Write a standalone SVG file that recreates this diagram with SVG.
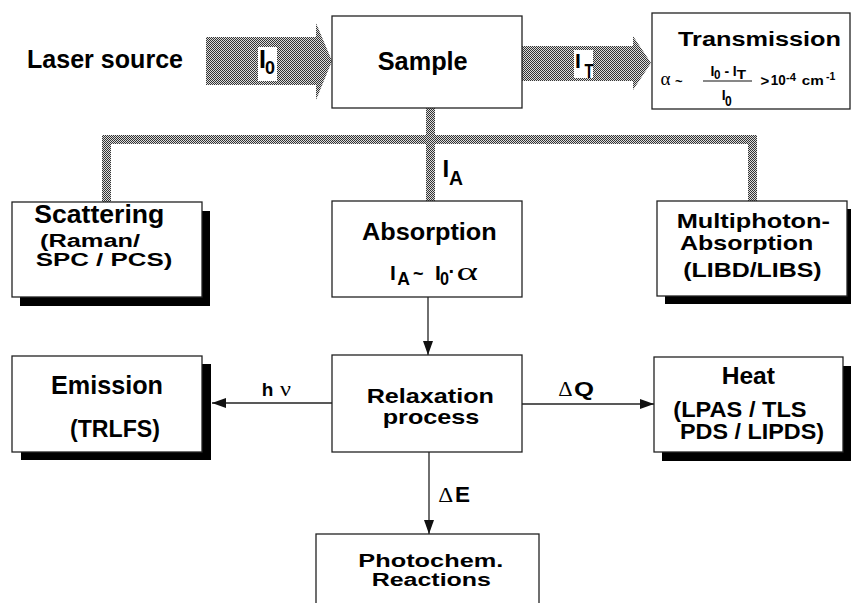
<svg xmlns="http://www.w3.org/2000/svg" width="851" height="603" viewBox="0 0 851 603">
<defs>
<pattern id="dith" width="2" height="2" patternUnits="userSpaceOnUse">
<rect width="2" height="2" fill="#dcdcdc"/>
<rect width="1" height="1" fill="#333"/>
<rect x="1" y="1" width="1" height="1" fill="#333"/>
</pattern>
<marker id="ah" viewBox="0 0 14 10" refX="14" refY="5" markerWidth="14" markerHeight="10" markerUnits="userSpaceOnUse" orient="auto">
<path d="M0,0 L14,5 L0,10 z" fill="#111"/>
</marker>
<style>
.t{font-family:"Liberation Sans",Arial,sans-serif;font-weight:bold;fill:#000}
.g{font-family:"Liberation Serif","Times New Roman",serif;fill:#000}
.box{fill:#fff;stroke:#222;stroke-width:1.3}
.sh{fill:#000}
.ln{stroke:#222;stroke-width:1.3;fill:none}
.flow{fill:url(#dith)}
.lab{fill:#fff}
</style>
</defs>
<rect width="851" height="603" fill="#fff"/>

<g id="connectors">
<polygon class="flow" points="206,37 316,37 316,23 332,61 316,100 316,85 206,85"/>
<polygon class="flow" points="522,46 633,46 633,36 651,63 633,90 633,81 522,81"/>
<path class="flow" d="M102,135 H757 V201 H748 V144 H435 V201 H426 V144 H111 V202 H102 Z M426,108 H435 V135 H426 Z"/>
<rect class="lab" x="258" y="47" width="19" height="34"/>
<text class="t" x="259" y="67.7" font-size="25">I</text>
<text class="t" x="265" y="74.3" font-size="19" textLength="10" lengthAdjust="spacingAndGlyphs">0</text>
<rect class="lab" x="574" y="50" width="19" height="28"/>
<text class="t" x="575" y="68.3" font-size="21">I</text>
<text class="t" x="584.5" y="78" font-size="20" textLength="9" lengthAdjust="spacingAndGlyphs">T</text>
<text class="t" x="442.5" y="176.7" font-size="24">I</text>
<text class="t" x="449" y="185" font-size="20" textLength="14" lengthAdjust="spacingAndGlyphs">A</text>
<line class="ln" x1="428" y1="297" x2="428" y2="355" marker-end="url(#ah)"/>
<line class="ln" x1="332" y1="403" x2="212" y2="403" marker-end="url(#ah)"/>
<line class="ln" x1="522" y1="404" x2="654" y2="404" marker-end="url(#ah)"/>
<line class="ln" x1="429" y1="452" x2="429" y2="534" marker-end="url(#ah)"/>
<text class="t" x="261.7" y="396" font-size="19">h</text>
<text class="g" x="280" y="396" font-size="20" textLength="11" lengthAdjust="spacingAndGlyphs">ν</text>
<text class="g" x="558.3" y="396" font-size="21" textLength="14.4" lengthAdjust="spacingAndGlyphs">Δ</text>
<text class="t" x="574" y="396" font-size="20" textLength="20" lengthAdjust="spacingAndGlyphs">Q</text>
<text class="g" x="438.3" y="501.7" font-size="22" textLength="15" lengthAdjust="spacingAndGlyphs">Δ</text>
<text class="t" x="455" y="501.7" font-size="22" textLength="15" lengthAdjust="spacingAndGlyphs">E</text>
</g>

<g id="laser">
<text class="t" x="27" y="68" font-size="25" textLength="156" lengthAdjust="spacingAndGlyphs">Laser source</text>
</g>

<g id="sample">
<rect class="box" x="332" y="16" width="190" height="92"/>
<text class="t" x="377.7" y="70" font-size="25" textLength="90" lengthAdjust="spacingAndGlyphs">Sample</text>
</g>

<g id="transmission">
<rect class="box" x="652" y="13" width="198" height="96"/>
<text class="t" x="678" y="46" font-size="20" textLength="163" lengthAdjust="spacingAndGlyphs">Transmission</text>
<text class="g" x="660.5" y="85" font-size="18" textLength="10" lengthAdjust="spacingAndGlyphs">α</text>
<text class="t" x="675" y="86" font-size="13">~</text>
<text class="t" x="710.5" y="75.5" font-size="14">I</text>
<text class="t" x="714" y="78.5" font-size="12" textLength="6.5" lengthAdjust="spacingAndGlyphs">0</text>
<text class="t" x="724.5" y="75.5" font-size="14">-</text>
<text class="t" x="732.8" y="75.5" font-size="14">I</text>
<text class="t" x="736.7" y="79" font-size="12.5" textLength="9.3" lengthAdjust="spacingAndGlyphs">T</text>
<line x1="703" y1="81" x2="752" y2="81" stroke="#111" stroke-width="1.2"/>
<text class="t" x="721.8" y="99.5" font-size="14">I</text>
<text class="t" x="725" y="106" font-size="15" textLength="6.7" lengthAdjust="spacingAndGlyphs">0</text>
<text class="t" x="760.5" y="85.5" font-size="15">&gt;</text>
<text class="t" x="770.7" y="85" font-size="15" textLength="15" lengthAdjust="spacingAndGlyphs">10</text>
<text class="t" x="786" y="80.5" font-size="10.5" textLength="10" lengthAdjust="spacingAndGlyphs">-4</text>
<text class="t" x="801.7" y="85" font-size="12.5" textLength="22" lengthAdjust="spacingAndGlyphs">cm</text>
<text class="t" x="826" y="80" font-size="10.5">-1</text>
</g>

<g id="scattering">
<rect class="sh" x="20" y="211" width="190" height="95"/>
<rect class="box" x="12" y="202" width="190" height="95"/>
<text class="t" x="34.3" y="223.3" font-size="25" textLength="130" lengthAdjust="spacingAndGlyphs">Scattering</text>
<text class="t" x="40" y="247.2" font-size="18" textLength="100" lengthAdjust="spacingAndGlyphs">(Raman/</text>
<text class="t" x="35.7" y="266.2" font-size="18" textLength="136.7" lengthAdjust="spacingAndGlyphs">SPC / PCS)</text>
</g>

<g id="absorption">
<rect class="box" x="332" y="201" width="190" height="96"/>
<text class="t" x="362" y="240" font-size="23" textLength="134.7" lengthAdjust="spacingAndGlyphs">Absorption</text>
<text class="t" x="390" y="280" font-size="21">I</text>
<text class="t" x="397.3" y="285" font-size="18" textLength="12.7" lengthAdjust="spacingAndGlyphs">A</text>
<text class="t" x="413" y="280" font-size="18">~</text>
<text class="t" x="435" y="280" font-size="21">I</text>
<text class="t" x="440" y="285" font-size="18" textLength="9" lengthAdjust="spacingAndGlyphs">0</text>
<text class="t" x="448.5" y="278" font-size="20">·</text>
<text class="g" x="456.5" y="280" font-size="26" textLength="21.5" lengthAdjust="spacingAndGlyphs">α</text>
</g>

<g id="multiphoton">
<rect class="sh" x="665" y="209" width="190" height="95"/>
<rect class="box" x="657" y="201" width="190" height="95"/>
<text class="t" x="676.7" y="227.7" font-size="21" textLength="153.3" lengthAdjust="spacingAndGlyphs">Multiphoton-</text>
<text class="t" x="680" y="250" font-size="21" textLength="133.3" lengthAdjust="spacingAndGlyphs">Absorption</text>
<text class="t" x="683.3" y="276.7" font-size="21" textLength="138.3" lengthAdjust="spacingAndGlyphs">(LIBD/LIBS)</text>
</g>

<g id="emission">
<rect class="sh" x="21" y="364" width="190" height="96"/>
<rect class="box" x="12" y="356" width="190" height="96"/>
<text class="t" x="51" y="394.3" font-size="25" textLength="112" lengthAdjust="spacingAndGlyphs">Emission</text>
<text class="t" x="70" y="436.5" font-size="24" textLength="90" lengthAdjust="spacingAndGlyphs">(TRLFS)</text>
</g>

<g id="relaxation">
<rect class="box" x="332" y="355" width="190" height="97"/>
<text class="t" x="366.7" y="403" font-size="21" textLength="127.3" lengthAdjust="spacingAndGlyphs">Relaxation</text>
<text class="t" x="382.7" y="424" font-size="21" textLength="96.7" lengthAdjust="spacingAndGlyphs">process</text>
</g>

<g id="heat">
<rect class="sh" x="662" y="366" width="189" height="95"/>
<rect class="box" x="654" y="357" width="189" height="95"/>
<text class="t" x="721.7" y="384.3" font-size="23" textLength="53.3" lengthAdjust="spacingAndGlyphs">Heat</text>
<text class="t" x="673.3" y="416.5" font-size="22" textLength="133.3" lengthAdjust="spacingAndGlyphs">(LPAS / TLS</text>
<text class="t" x="680" y="439.3" font-size="22" textLength="144" lengthAdjust="spacingAndGlyphs">PDS / LIPDS)</text>
</g>

<g id="photochem">
<rect class="box" x="316" y="534" width="223" height="90"/>
<text class="t" x="358.3" y="567.2" font-size="18" textLength="145" lengthAdjust="spacingAndGlyphs">Photochem.</text>
<text class="t" x="371.7" y="585.5" font-size="18" textLength="119.3" lengthAdjust="spacingAndGlyphs">Reactions</text>
</g>
</svg>
